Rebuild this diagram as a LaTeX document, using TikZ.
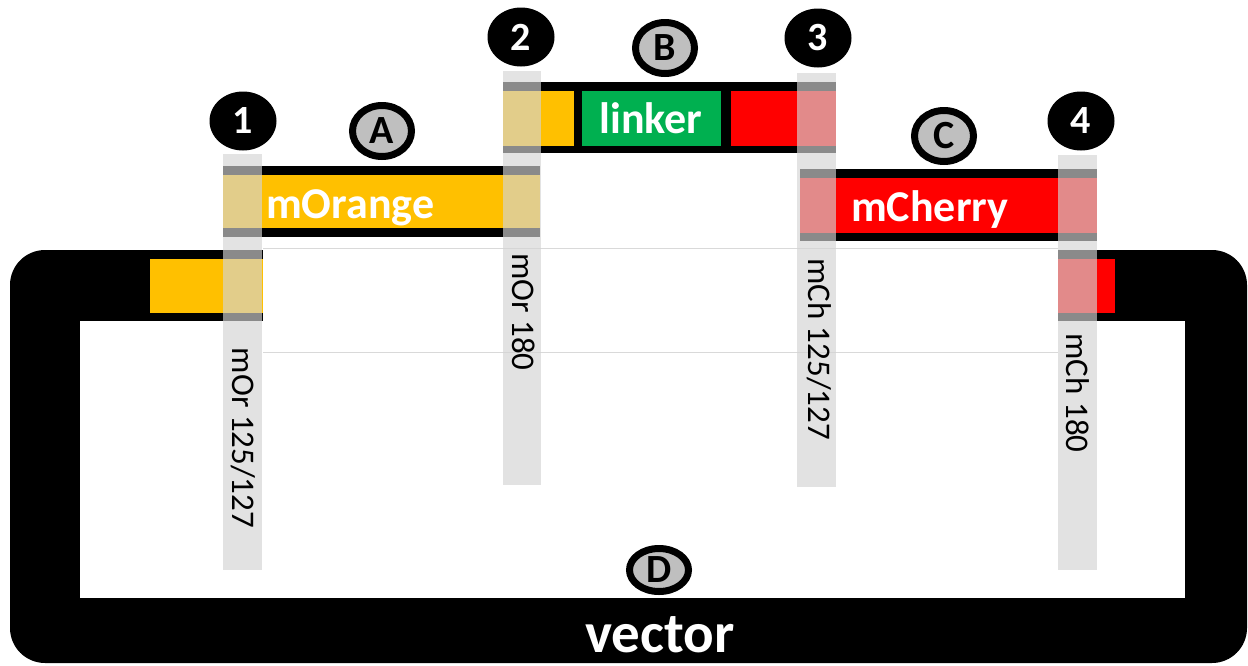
\documentclass[tikz,border=0pt]{standalone}
\usepackage{fontspec}
\setmainfont{Carlito}
\usetikzlibrary{shapes.geometric}
\definecolor{morange}{HTML}{FFC000}
\definecolor{mred}{HTML}{FF0000}
\definecolor{mgreen}{HTML}{00B050}
\definecolor{circgray}{HTML}{BFBFBF}
\definecolor{stripgray}{RGB}{212,212,212}
\definecolor{faint}{HTML}{D9D9D9}
\begin{document}
\begin{tikzpicture}[x=1pt,y=-1pt,
  numcirc/.style={ellipse, fill=black, text=white, font=\bfseries\fontsize{40}{40}\selectfont, minimum width=67pt, minimum height=59pt, inner sep=0pt},
  letcirc/.style={ellipse, fill=circgray, draw=black, line width=7pt, text=black, font=\bfseries\fontsize{40}{40}\selectfont, minimum width=59pt, minimum height=51pt, inner sep=0pt},
  primer/.style={fill=stripgray, fill opacity=0.655},
  vlabel/.style={rotate=-90, font=\fontsize{33}{33}\selectfont, inner sep=0pt},
  barlabel/.style={text=white, font=\bfseries\fontsize{44}{44}\selectfont, inner sep=0pt}
]
\useasboundingbox (0,0) rectangle (1248,665);
% vector
\fill[black, rounded corners=35pt] (10,250) rectangle (1247,663);
\fill[white] (80,321) rectangle (1185,598);
\fill[white] (263,249) rectangle (1058,322);
\draw[faint, line width=1pt] (263,248) -- (1058,248);
\draw[faint, line width=1pt] (263,352) -- (1058,352);
\fill[morange] (150,259) rectangle (263,313);
\fill[mred] (1058,259) rectangle (1115,313);
% fragment A
\fill[black] (223,166) rectangle (540,237);
\fill[morange] (223,175) rectangle (540,228);
% fragment B
\fill[black] (503,82) rectangle (836,153);
\fill[morange] (503,91) rectangle (574,146);
\fill[mgreen] (582,91) rectangle (721,146);
\fill[mred] (731,91) rectangle (836,146);
% fragment C
\fill[black] (800,169) rectangle (1097,241);
\fill[mred] (800,178) rectangle (1097,233);
% primer strips
\fill[primer] (223,154) rectangle (262,570);
\fill[primer] (503,71) rectangle (541,485);
\fill[primer] (797,73) rectangle (836,487);
\fill[primer] (1058,155) rectangle (1097,570);
% labels
\node[barlabel, anchor=base west] (morangeT) at (266,218) {mOrange};
\node[barlabel, anchor=base] (linkerT) at (651,133) {linker};
\node[barlabel, anchor=base west] (mcherryT) at (851,221) {mCherry};
\node[text=white, font=\bfseries\fontsize{57}{57}\selectfont, inner sep=0pt, anchor=base] (vectorT) at (660,652) {vector};
\node[vlabel] (p1) at (243,438) {mOr 125/127};
\node[vlabel] (p2) at (524,312) {mOr 180};
\node[vlabel] (p3) at (819,349) {mCh 125/127};
\node[vlabel] (p4) at (1078,393) {mCh 180};
% circles
\node[numcirc] (n1) at (243,121) {1};
\node[numcirc] (n2) at (521,37) {2};
\node[numcirc] (n3) at (818,38) {3};
\node[numcirc] (n4) at (1081,121) {4};
\node[letcirc] (cA) at (382,131) {A};
\node[letcirc] (cB) at (665,48) {B};
\node[letcirc] (cC) at (944,136) {C};
\node[letcirc, minimum height=43pt] (cD) at (659,570) {D};
\end{tikzpicture}
\end{document}
